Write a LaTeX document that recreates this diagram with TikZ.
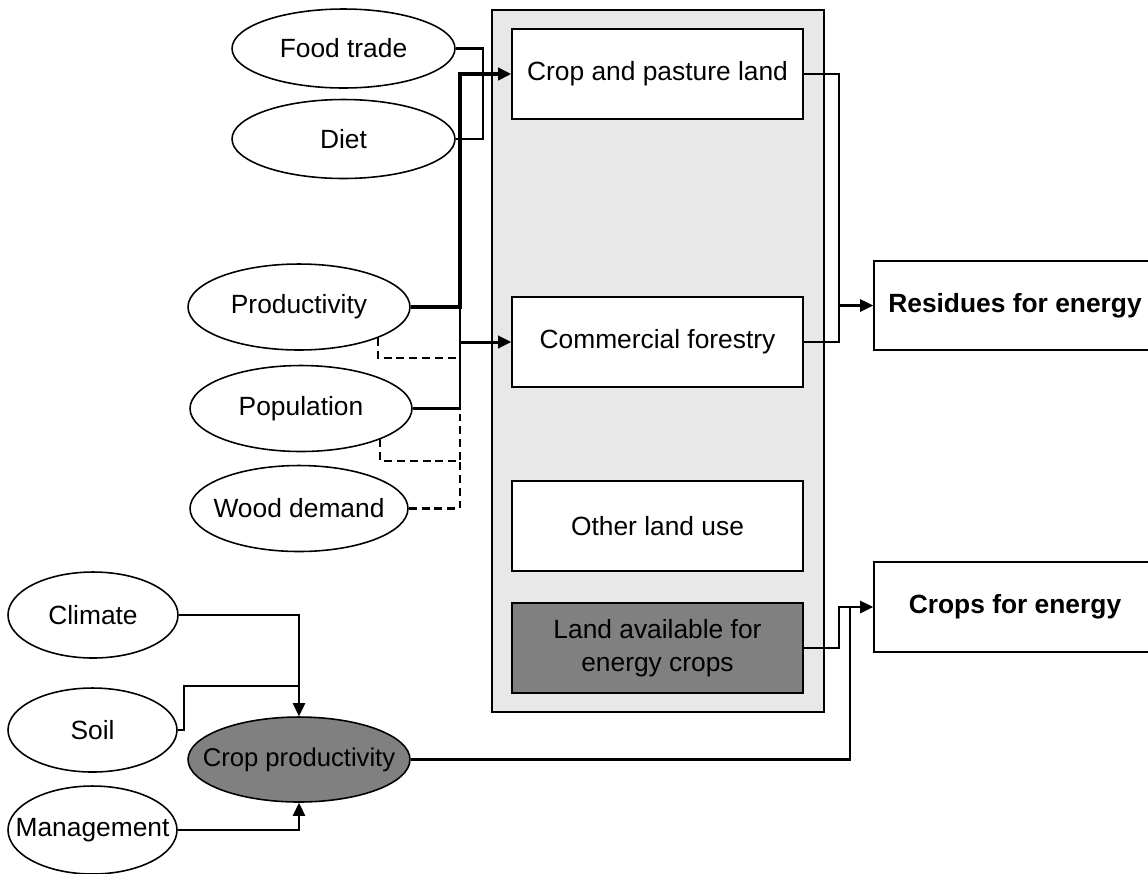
\documentclass[tikz,border=0pt]{standalone}
\usepackage{fontspec}
\setmainfont{Liberation Sans}
\usepackage{tikz}
\usetikzlibrary{shapes, arrows, arrows.meta, positioning}
\definecolor{panelgrey}{RGB}{232,232,232}
\definecolor{landgrey}{RGB}{128,128,128}
\newcommand{\nw}[1]{\makebox[0pt]{#1}}

\begin{document}
\begin{tikzpicture}[x=0.02cm, y=-0.02cm, font=\fontsize{15}{19}\selectfont]
    % Define block styles
    \tikzstyle{panel} = [rectangle, draw, fill=panelgrey, line width=0.9pt,
        minimum width=6.64cm, minimum height=14.04cm]
    \tikzstyle{block} = [rectangle, draw, fill=white, line width=0.9pt, align=center,
        minimum width=5.82cm, minimum height=1.8cm, inner sep=0pt]
    \tikzstyle{result} = [block, minimum width=5.64cm, minimum height=1.79cm,
        font=\fontsize{15}{19}\selectfont\bfseries]
    \tikzstyle{factor} = [ellipse, draw, fill=white, line width=0.9pt, inner sep=0pt,
        minimum width=4.44cm, minimum height=1.72cm]
    \tikzstyle{line} = [draw, line width=1.2pt, -{Triangle[length=7.5pt, width=7pt]}]
    \tikzstyle{link} = [draw, line width=1.2pt]
    \tikzstyle{wood} = [draw, line width=1.2pt, dash pattern=on 4.5pt off 2.8pt]

    \useasboundingbox (0,0) rectangle (1148,873);

    % Define nodes
    \node [panel] (landuse) at (658,361) {};
    \node [block] (cropland) at (657.5,74) {Crop and pasture land};
    \node [block] (cf) at (657.5,342) {Commercial forestry};
    \node [block] (other) at (657.5,526) {Other land use};
    \node [block, fill=landgrey] (landavail) at (657.5,648) {Land available for\\energy crops};

    \node [result] (residues) at (1015,305.5) {Residues for energy};
    \node [result] (crops) at (1015,607) {Crops for energy};

    \node [factor, minimum width=4.46cm, minimum height=1.58cm] (foodtrade) at (343.5,48.5) {\nw{Food trade}};
    \node [factor, minimum width=4.46cm, minimum height=1.58cm] (diet) at (343.5,139) {\nw{Diet}};
    \node [factor] (productivity) at (299,307) {\nw{Productivity}};
    \node [factor] (population) at (301,408.5) {\nw{Population}};
    \node [factor, minimum width=4.36cm] (wooddemand) at (299,508.5) {\nw{Wood demand}};

    \node [factor, minimum width=3.4cm] (climate) at (93,615) {\nw{Climate}};
    \node [factor, minimum width=3.38cm, minimum height=1.68cm] (soil) at (92.5,730) {\nw{Soil}};
    \node [factor, minimum width=3.38cm, minimum height=1.76cm] (management) at (92.5,830) {\nw{Management}};
    \node [factor, fill=landgrey, minimum height=1.7cm] (cropprod) at (299,759.5)
        {\nw{\fontsize{14.6}{18}\selectfont Crop productivity}};

    % Junctions
    \coordinate (busL) at (460,0);
    \coordinate (busM) at (483,0);
    \coordinate (busR) at (839,0);
    \coordinate (busC) at (850,0);
    \coordinate (dashP) at (460,358);
    \coordinate (dashQ) at (460,461);
    \coordinate (soilJ) at (299,686);

    % Draw edges
    \path [link] (foodtrade.east) -- (foodtrade.east -| busM) |- (diet.east);
    \path [link] (population.east) -- (population.east -| busL) -- (productivity.east -| busL);
    \path [line, line width=2pt] (productivity.east) -- (productivity.east -| busL) |- (cropland.west);
    \path [wood] (productivity.south east) |- (dashP) -- (cf.west -| busL);
    \path [wood] (population.south east) |- (dashQ) -- (dashP);
    \path [wood] (wooddemand.east) -| (dashQ);
    \path [line, line width=1.7pt] (cf.west -| busL) -- (cf.west);

    \path [link] (cropland.east) -| (busR |- residues.west) |- (cf.east);
    \path [line] (busR |- residues.west) -- (residues.west);
    \path [line] (landavail.east) -| (busR |- crops.west) -- (crops.west);
    \path [link] (cropprod.east) -| (busC |- crops.west);

    \path [line] (climate.east) -| (cropprod.north);
    \path [link] (soil.east) -- ++(6,0) |- (soilJ);
    \path [line] (management.east) -| (cropprod.south);

\end{tikzpicture}
\end{document}
